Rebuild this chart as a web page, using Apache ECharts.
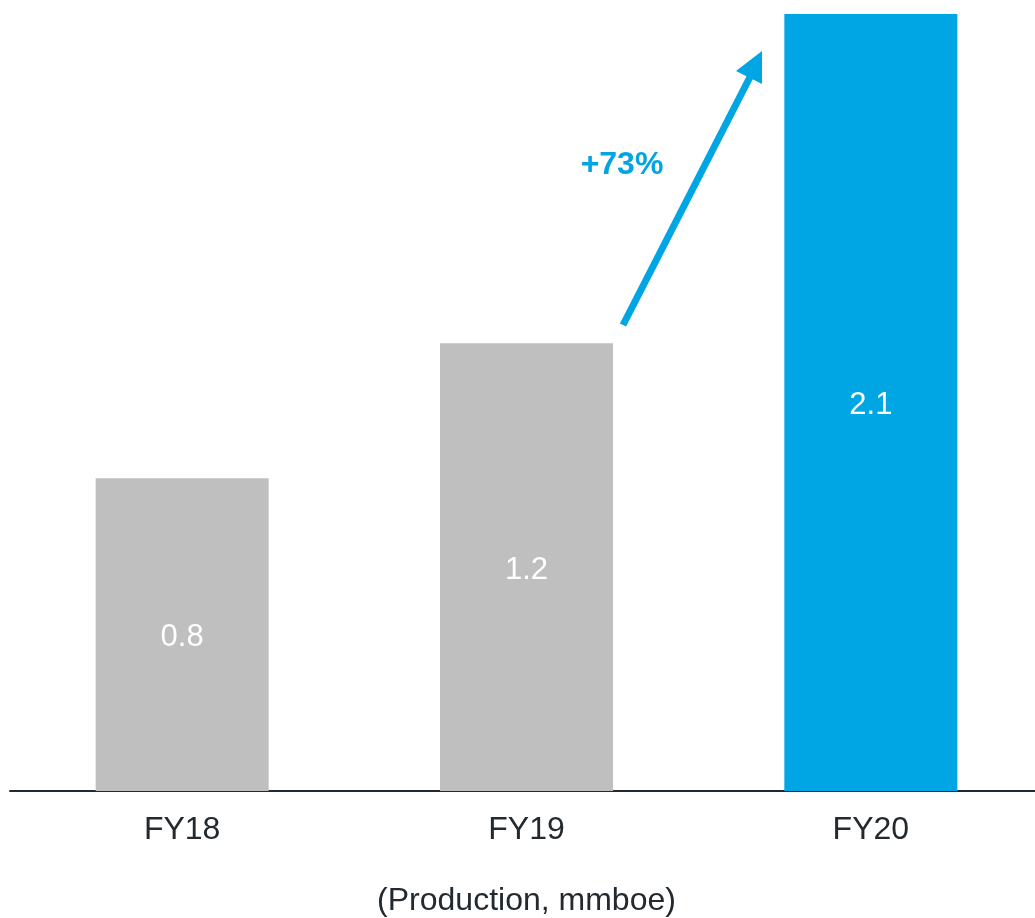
<!DOCTYPE html>
<html>
<head>
<meta charset="utf-8">
<script src="https://cdn.jsdelivr.net/npm/echarts@6/dist/echarts.min.js"></script>
<style>html,body{margin:0;padding:0;background:#fff}#c{width:1035px;height:918px}</style>
</head>
<body>
<div id="c"></div>
<script>
var categories = ['FY18', 'FY19', 'FY20'];
var production = [0.845, 1.21, 2.1];
var barColors = ['#BFBFBF', '#BFBFBF', '#00A5E3'];
var growthLabel = '+73%';
var axisTitle = '(Production, mmboe)';

var chart = echarts.init(document.getElementById('c'));
var font = '"Liberation Sans", Arial, sans-serif';
chart.setOption({
  animation: false,
  grid: { left: 10, width: 1033, top: 14, bottom: 127, outerBoundsMode: 'none', containLabel: false },
  xAxis: {
    type: 'category',
    data: categories,
    axisTick: { show: false },
    axisLine: { lineStyle: { color: '#1F2A33', width: 2 } },
    axisLabel: { color: '#222A30', fontSize: 32, fontFamily: font, margin: 23 },
    name: axisTitle,
    nameLocation: 'middle',
    nameGap: 94,
    nameTextStyle: { color: '#222A30', fontSize: 32, fontFamily: font }
  },
  yAxis: { type: 'value', min: 0, max: 2.1, show: false, splitLine: { show: false } },
  series: [{
    type: 'bar',
    barWidth: 173,
    data: production.map(function (v, i) { return { value: v, itemStyle: { color: barColors[i] } }; }),
    label: {
      show: true, position: 'inside', offset: [0, 3], color: '#fff', fontSize: 31, fontFamily: font,
      formatter: function (p) { return p.value.toFixed(1); }
    }
  }],
  graphic: [
    { type: 'line', shape: { x1: 623, y1: 325, x2: 750, y2: 77 }, style: { stroke: '#00A5E3', lineWidth: 7 } },
    { type: 'polygon', shape: { points: [[762, 51], [736, 71], [762, 84]] }, style: { fill: '#00A5E3' } },
    { type: 'text', x: 622, y: 165, style: { text: growthLabel, fill: '#00A5E3', fontSize: 32, fontWeight: 'bold', fontFamily: font, textAlign: 'center', textVerticalAlign: 'middle' } }
  ]
});
</script>
</body>
</html>
